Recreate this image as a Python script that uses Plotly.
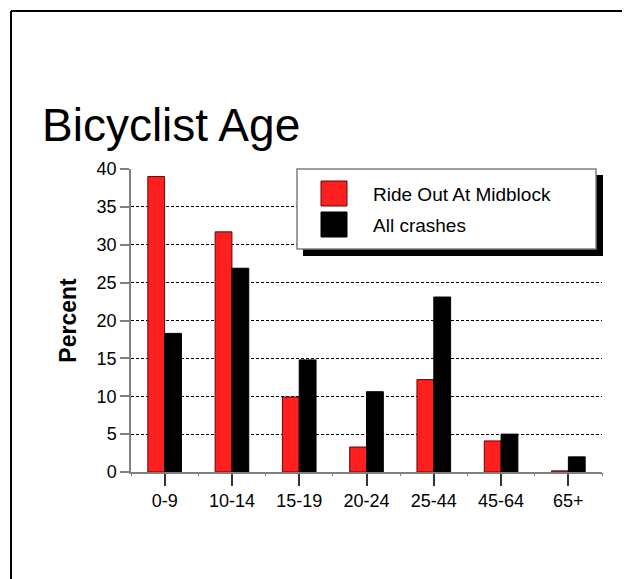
"""Bicyclist age: ride-out-at-midblock crashes vs all crashes."""

import plotly.graph_objects as go

age_groups = ["0-9", "10-14", "15-19", "20-24", "25-44", "45-64", "65+"]
ride_out_pct = [39.0, 31.7, 9.9, 3.3, 12.2, 4.1, 0.15]
all_crashes_pct = [18.3, 26.9, 14.8, 10.6, 23.1, 5.0, 2.0]
y_ticks = [0, 5, 10, 15, 20, 25, 30, 35, 40]

series_names = ["Ride Out At Midblock", "All crashes"]
series_colors = ["#FF1F1F", "#000000"]
series_lines = ["#5A0A0A", "#000000"]

FONT = "Arial, Liberation Sans, sans-serif"

# the page body has an 8px margin, so the figure starts at (8, 8) on screen
OFF = 8
W, H = 630 - OFF, 579 - OFF
# plot area in screen pixels: x 131..602, y 169..472
L, R, T, B = 131, 602, 169, 472


def px(x):
    return (x - L) / (R - L)


def py(y):
    return (B - y) / (B - T)


fig = go.Figure()
for name, vals, color, edge in zip(series_names, [ride_out_pct, all_crashes_pct], series_colors, series_lines):
    fig.add_trace(
        go.Bar(
            x=age_groups,
            y=vals,
            name=name,
            marker=dict(color=color, line=dict(color=edge, width=1)),
            showlegend=False,
        )
    )

# invisible helper so a second axis can draw the small boundary ticks
fig.add_trace(
    go.Scatter(
        x=age_groups,
        y=[0] * len(age_groups),
        xaxis="x2",
        mode="markers",
        marker=dict(opacity=0),
        hoverinfo="skip",
        showlegend=False,
    )
)

shapes = [
    # page frame
    dict(type="line", xref="paper", yref="paper", x0=px(11), x1=px(11), y0=py(600), y1=py(11),
         line=dict(color="black", width=2)),
    dict(type="line", xref="paper", yref="paper", x0=px(11), x1=px(640), y0=py(11), y1=py(11),
         line=dict(color="black", width=2)),
    # legend shadow and box
    dict(type="rect", xref="paper", yref="paper", x0=px(303), x1=px(603), y0=py(256), y1=py(175),
         fillcolor="black", line=dict(width=0), layer="above"),
    dict(type="rect", xref="paper", yref="paper", x0=px(297), x1=px(596), y0=py(249), y1=py(169),
         fillcolor="white", line=dict(color="#808080", width=1.5), layer="above"),
]
annotations = []
for i, (name, color, edge) in enumerate(zip(series_names, series_colors, series_lines)):
    top = 181 + i * 31
    shapes.append(
        dict(type="rect", xref="paper", yref="paper", x0=px(321), x1=px(347), y0=py(top + 25), y1=py(top),
             fillcolor=color, line=dict(color=edge, width=1), layer="above")
    )
    annotations.append(
        dict(xref="paper", yref="paper", x=px(371), y=py(top + 13), text=name, showarrow=False,
             xanchor="left", yanchor="middle", font=dict(family=FONT, size=19, color="black"))
    )

annotations.append(
    dict(xref="paper", yref="paper", x=px(40), y=py(125), text="Bicyclist Age", showarrow=False,
         xanchor="left", yanchor="middle", font=dict(family=FONT, size=46, color="black"))
)

fig.update_layout(
    width=W,
    height=H,
    margin=dict(l=L - OFF, r=W - (R - OFF), t=T - OFF, b=H - (B - OFF)),
    paper_bgcolor="white",
    plot_bgcolor="white",
    barmode="group",
    bargap=0.5,
    bargroupgap=0,
    font=dict(family=FONT, size=18, color="black"),
    shapes=shapes,
    annotations=annotations,
    xaxis=dict(
        type="category",
        range=[-0.5, 6.5],
        showline=True,
        linecolor="#808080",
        linewidth=1.5,
        ticks="outside",
        ticklen=12,
        tickcolor="#333333",
        tickwidth=1.5,
        showgrid=False,
        tickfont=dict(size=18),
        fixedrange=True,
    ),
    xaxis2=dict(
        type="category",
        overlaying="x",
        anchor="y",
        side="bottom",
        range=[-0.5, 6.5],
        tickson="boundaries",
        ticks="outside",
        ticklen=3,
        tickcolor="#808080",
        showticklabels=False,
        showgrid=False,
        showline=False,
    ),
    yaxis=dict(
        range=[0, 40],
        tickvals=y_ticks,
        showline=True,
        linecolor="#808080",
        linewidth=1.5,
        ticks="outside",
        ticklen=9,
        tickcolor="#808080",
        tickwidth=1.5,
        showgrid=True,
        gridcolor="black",
        gridwidth=1,
        griddash="3px,2px",
        zeroline=False,
        tickfont=dict(size=18),
        title=dict(text="<b>Percent</b>", font=dict(size=23), standoff=14),
        fixedrange=True,
    ),
)

fig.write_html("out.html")
